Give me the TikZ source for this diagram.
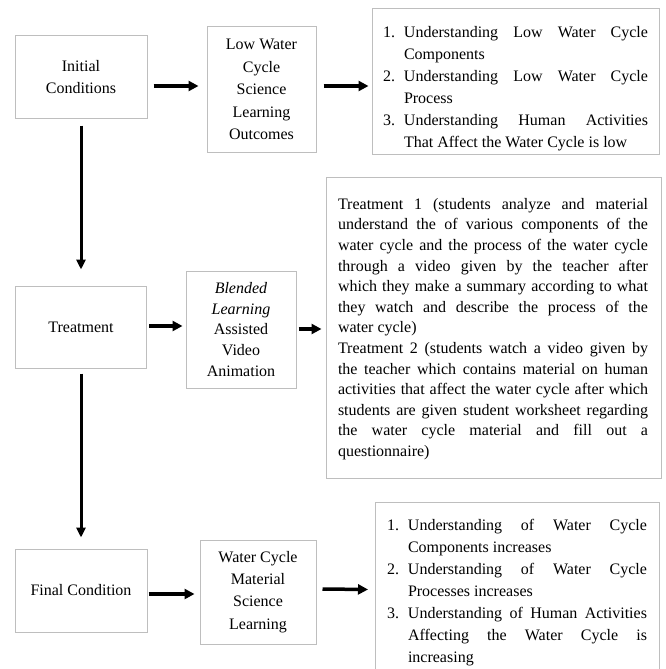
\documentclass[tikz,border=0pt]{standalone}
\usepackage{fontspec}
\setmainfont{Liberation Serif}
\usetikzlibrary{arrows.meta,calc}
\definecolor{boxgray}{RGB}{190,190,190}
\newcommand{\litem}[2]{\par\hangindent=21pt\hangafter=1\noindent\makebox[21pt][l]{#1}#2\par}
\begin{document}
\begin{tikzpicture}[x=1pt,y=-1pt,
  box/.style={draw=boxgray,line width=1pt,inner sep=0pt,align=center,
    font=\fontsize{16}{22.5}\selectfont},
  listtext/.style={inner sep=0pt,align=justify,font=\fontsize{16}{22}\selectfont},
  bigtext/.style={inner sep=0pt,align=justify,font=\fontsize{16}{20.6}\selectfont},
  arr/.style={line width=3.5pt,-{Triangle[length=10pt,width=10pt]}},
  varr/.style={line width=3pt,-{Triangle[length=10pt,width=9pt]}}]
\useasboundingbox (0,0) rectangle (666,669);
\clip (0,0) rectangle (666,669);

% left column
\node[box,minimum width=132pt,minimum height=82pt] (init) at (81,77) {Initial\\Conditions};
\node[box,minimum width=131pt,minimum height=82pt] (treat) at (81,327) {Treatment};
\node[box,minimum width=132pt,minimum height=83pt] (final) at (81,590.5) {Final Condition};

% middle column
\node[box,minimum width=109pt,minimum height=125pt] (lw) at (261.5,89.5)
  {Low Water\\Cycle\\Science\\Learning\\Outcomes};
\node[box,minimum width=110pt,minimum height=117pt,font=\fontsize{16}{20.6}\selectfont] (blend) at (241,329.5)
  {\textit{Blended}\\\textit{Learning}\\Assisted\\Video\\Animation};
\node[box,minimum width=116pt,minimum height=104pt,font=\fontsize{16}{22.3}\selectfont] (wc) at (258,592)
  {Water Cycle\\Material\\Science\\Learning};

% right column
\node[draw=boxgray,line width=1pt,minimum width=287pt,minimum height=145pt] (lowlist) at (515.5,81.5) {};
\node[listtext,text width=265pt] (lowtext) at (515.5,83) {\parindent=0pt
\litem{1.}{Understanding Low Water Cycle\linebreak Components}
\litem{2.}{Understanding Low Water Cycle\linebreak Process}
\litem{3.}{Understanding Human Activities\linebreak That Affect the Water Cycle is low}};

\node[draw=boxgray,line width=1pt,minimum width=335pt,minimum height=301pt] (big) at (493.5,327.5) {};
\node[bigtext,text width=310pt] (bigtxt) at (493,329) {\parindent=0pt
Treatment 1 (students analyze and material\linebreak understand the of various components of the\linebreak water cycle and the process of the water cycle\linebreak through a video given by the teacher after\linebreak which they make a summary according to what\linebreak they watch and describe the process of the\linebreak water cycle)\par
Treatment 2 (students watch a video given by\linebreak the teacher which contains material on human\linebreak activities that affect the water cycle after which\linebreak students are given student worksheet regarding\linebreak the water cycle material and fill out a\linebreak questionnaire)\par};

\node[draw=boxgray,line width=1pt,minimum width=284pt,minimum height=180pt,anchor=north west] (finbox) at (375,502) {};
\node[listtext,text width=260pt] (fintext) at (517,587.5) {\parindent=0pt
\litem{1.}{Understanding of Water Cycle\linebreak Components increases}
\litem{2.}{Understanding of Water Cycle\linebreak Processes increases}
\litem{3.}{Understanding of Human Activities\linebreak Affecting the Water Cycle is\linebreak increasing}};

% arrows
\draw[arr] ($(init.east)+(6,9)$) -- ($(lw.west)+(-8,-3.5)$);
\draw[arr] ($(lw.east)+(7,-3.5)$) -- ($(lowlist.west)+(-3,4.5)$);
\draw[varr] ($(init.south)+(0,7)$) -- ($(treat.north)+(0,-16)$);
\draw[arr] ($(treat.east)+(2,-1)$) -- ($(blend.west)+(-3,-3.5)$);
\draw[arr] ($(blend.east)+(2,-0.5)$) -- ($(big.west)+(-4,1.5)$);
\draw[varr] ($(treat.south)+(0,5)$) -- ($(final.north)+(0,-11)$);
\draw[arr] ($(final.east)+(1,3.5)$) -- ($(wc.west)+(-5,2)$);
\draw[arr] ($(wc.east)+(6,-3)$) -- ($(finbox.west)+(-7,-3)$);
\end{tikzpicture}
\end{document}
